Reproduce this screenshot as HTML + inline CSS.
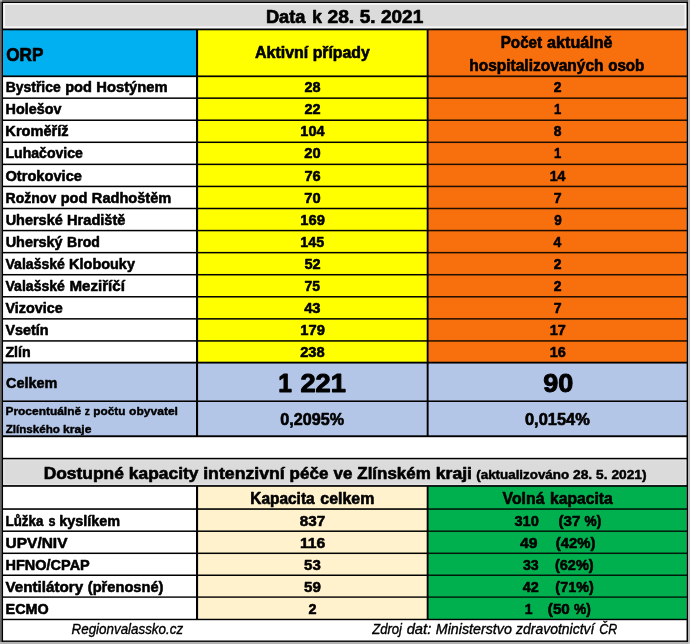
<!DOCTYPE html>
<html lang="cs"><head><meta charset="utf-8"><title>Data k 28. 5. 2021</title>
<style>
html,body{margin:0;padding:0;background:#fff;}
body{width:690px;height:644px;overflow:hidden;}
svg{display:block;}
text{font-family:"Liberation Sans",sans-serif;fill:#000;stroke:#000;stroke-linejoin:round;}
</style></head><body>
<svg width="690" height="644" viewBox="0 0 690 644">
<g shape-rendering="auto">
<rect x="0" y="0" width="690" height="644" fill="#fff"/>
<rect x="3.1" y="3" width="683.5" height="26.5" fill="#f6f6f6"/>
<rect x="5.1" y="4.8" width="679.5" height="21.6" fill="#dbdbdb"/>
<rect x="3.1" y="29.5" width="193.9" height="47" fill="#00b0f0"/>
<rect x="197.1" y="29.5" width="230.6" height="333.5" fill="#ffff00"/>
<rect x="427.6" y="29.5" width="259" height="333.5" fill="#f8700e"/>
<rect x="3.1" y="362.5" width="683.5" height="74" fill="#b4c6e7"/>
<rect x="3.1" y="458.5" width="683.5" height="27.5" fill="#e6e6e6"/>
<rect x="4.6" y="460.5" width="680.5" height="23.4" fill="#dbdbdb"/>
<rect x="197.1" y="486" width="230.6" height="133" fill="#fff2cc"/>
<rect x="427.6" y="486" width="259" height="133" fill="#00b050"/>
<rect x="2.1" y="28.5" width="685.5" height="1.8" fill="#000"/>
<rect x="2.1" y="75.45" width="685.5" height="1.7" fill="#000"/>
<rect x="2.1" y="97.4" width="685.5" height="1.5" fill="#000"/>
<rect x="2.1" y="119.47" width="685.5" height="1.5" fill="#000"/>
<rect x="2.1" y="141.54" width="685.5" height="1.5" fill="#000"/>
<rect x="2.1" y="163.61" width="685.5" height="1.5" fill="#000"/>
<rect x="2.1" y="185.68" width="685.5" height="1.5" fill="#000"/>
<rect x="2.1" y="207.75" width="685.5" height="1.5" fill="#000"/>
<rect x="2.1" y="229.82" width="685.5" height="1.5" fill="#000"/>
<rect x="2.1" y="251.89" width="685.5" height="1.5" fill="#000"/>
<rect x="2.1" y="273.96" width="685.5" height="1.5" fill="#000"/>
<rect x="2.1" y="296.03" width="685.5" height="1.5" fill="#000"/>
<rect x="2.1" y="318.1" width="685.5" height="1.5" fill="#000"/>
<rect x="2.1" y="340.17" width="685.5" height="1.5" fill="#000"/>
<rect x="2.1" y="361.7" width="685.5" height="1.85" fill="#000"/>
<rect x="2.1" y="400.45" width="685.5" height="1.55" fill="#000"/>
<rect x="2.1" y="435.3" width="685.5" height="1.9" fill="#000"/>
<rect x="2.1" y="457.8" width="685.5" height="1.5" fill="#000"/>
<rect x="2.1" y="485.1" width="685.5" height="1.7" fill="#000"/>
<rect x="2.1" y="508.25" width="685.5" height="1.6" fill="#000"/>
<rect x="2.1" y="530.45" width="685.5" height="1.5" fill="#000"/>
<rect x="2.1" y="552.55" width="685.5" height="1.5" fill="#000"/>
<rect x="2.1" y="574.5" width="685.5" height="1.5" fill="#000"/>
<rect x="2.1" y="596.4" width="685.5" height="1.4" fill="#000"/>
<rect x="2.1" y="618.75" width="685.5" height="1.45" fill="#000"/>
<rect x="196" y="29" width="2.1" height="407.5" fill="#000"/>
<rect x="196" y="486" width="2.1" height="133.5" fill="#000"/>
<rect x="426.7" y="29" width="1.9" height="407.5" fill="#000"/>
<rect x="426.7" y="486" width="1.9" height="133.5" fill="#000"/>
<rect x="0" y="0" width="690" height="2" fill="#686868"/>
<rect x="0" y="0" width="2" height="644" fill="#686868"/>
<rect x="688" y="0" width="2" height="644" fill="#b8b8b8"/>
<rect x="0" y="641.8" width="690" height="2.2" fill="#b2b2b2"/>
<rect x="688" y="641.8" width="2" height="2.2" fill="#c6c6c6"/>
<rect x="0" y="0" width="2.2" height="1.6" fill="#b4b4b4"/>
<rect x="1.75" y="1.9" width="1.3" height="640" fill="#000"/>
<rect x="686.55" y="1.9" width="1.45" height="640" fill="#000"/>
<rect x="1.75" y="1.9" width="686.3" height="1.1" fill="#000"/>
<rect x="1.75" y="640.5" width="686.35" height="1.4" fill="#000"/>
<rect x="428.6" y="30.3" width="258" height="331.3" fill="#f8700e" opacity="0.13"/>
<rect x="428.6" y="486.8" width="258" height="132" fill="#00b050" opacity="0.14"/>
</g>
<g>
<text x="265.95" y="22.90" font-size="17.92" font-weight="bold" stroke-width="0.68" textLength="39.55" lengthAdjust="spacingAndGlyphs">Data</text>
<text x="312.19" y="22.90" font-size="17.92" font-weight="bold" stroke-width="0.68" textLength="9.63" lengthAdjust="spacingAndGlyphs">k</text>
<text x="327.48" y="22.90" font-size="17.92" font-weight="bold" stroke-width="0.68" textLength="26.75" lengthAdjust="spacingAndGlyphs">28.</text>
<text x="359.66" y="22.90" font-size="17.92" font-weight="bold" stroke-width="0.68" textLength="15.82" lengthAdjust="spacingAndGlyphs">5.</text>
<text x="381.02" y="22.90" font-size="17.92" font-weight="bold" stroke-width="0.68" textLength="42.20" lengthAdjust="spacingAndGlyphs">2021</text>
<text x="6.15" y="60.50" font-size="17.92" font-weight="bold" stroke-width="0.68" textLength="37.26" lengthAdjust="spacingAndGlyphs">ORP</text>
<text x="255.00" y="57.90" font-size="15.96" font-weight="bold" stroke-width="0.61" textLength="53.33" lengthAdjust="spacingAndGlyphs">Aktivní</text>
<text x="312.65" y="57.90" font-size="15.96" font-weight="bold" stroke-width="0.61" textLength="57.12" lengthAdjust="spacingAndGlyphs">případy</text>
<text x="500.71" y="47.70" font-size="15.96" font-weight="bold" stroke-width="0.61" textLength="41.43" lengthAdjust="spacingAndGlyphs" fill="#200e02" stroke="#200e02">Počet</text>
<text x="547.10" y="47.70" font-size="15.96" font-weight="bold" stroke-width="0.61" textLength="65.43" lengthAdjust="spacingAndGlyphs" fill="#200e02" stroke="#200e02">aktuálně</text>
<text x="469.32" y="71.00" font-size="15.96" font-weight="bold" stroke-width="0.61" textLength="134.19" lengthAdjust="spacingAndGlyphs" fill="#200e02" stroke="#200e02">hospitalizovaných</text>
<text x="608.18" y="71.00" font-size="15.96" font-weight="bold" stroke-width="0.61" textLength="36.21" lengthAdjust="spacingAndGlyphs" fill="#200e02" stroke="#200e02">osob</text>
<text x="5.69" y="92.30" font-size="14.52" font-weight="bold" stroke-width="0.55" textLength="55.00" lengthAdjust="spacingAndGlyphs">Bystřice</text>
<text x="65.16" y="92.30" font-size="14.52" font-weight="bold" stroke-width="0.55" textLength="26.70" lengthAdjust="spacingAndGlyphs">pod</text>
<text x="96.28" y="92.30" font-size="14.52" font-weight="bold" stroke-width="0.55" textLength="71.31" lengthAdjust="spacingAndGlyphs">Hostýnem</text>
<text x="304.39" y="92.30" font-size="14.52" font-weight="bold" stroke-width="0.55" textLength="16.08" lengthAdjust="spacingAndGlyphs">28</text>
<text x="553.79" y="92.30" font-size="14.52" font-weight="bold" stroke-width="0.55" textLength="7.77" lengthAdjust="spacingAndGlyphs" fill="#200e02" stroke="#200e02">2</text>
<text x="5.58" y="114.35" font-size="14.52" font-weight="bold" stroke-width="0.55" textLength="55.86" lengthAdjust="spacingAndGlyphs">Holešov</text>
<text x="304.39" y="114.35" font-size="14.52" font-weight="bold" stroke-width="0.55" textLength="16.15" lengthAdjust="spacingAndGlyphs">22</text>
<text x="553.99" y="114.35" font-size="14.52" font-weight="bold" stroke-width="0.55" textLength="7.25" lengthAdjust="spacingAndGlyphs" fill="#200e02" stroke="#200e02">1</text>
<text x="5.39" y="136.40" font-size="14.52" font-weight="bold" stroke-width="0.55" textLength="63.18" lengthAdjust="spacingAndGlyphs">Kroměříž</text>
<text x="300.34" y="136.40" font-size="14.52" font-weight="bold" stroke-width="0.55" textLength="24.18" lengthAdjust="spacingAndGlyphs">104</text>
<text x="553.78" y="136.40" font-size="14.52" font-weight="bold" stroke-width="0.55" textLength="7.72" lengthAdjust="spacingAndGlyphs" fill="#200e02" stroke="#200e02">8</text>
<text x="5.51" y="158.45" font-size="14.52" font-weight="bold" stroke-width="0.55" textLength="77.36" lengthAdjust="spacingAndGlyphs">Luhačovice</text>
<text x="304.38" y="158.45" font-size="14.52" font-weight="bold" stroke-width="0.55" textLength="16.33" lengthAdjust="spacingAndGlyphs">20</text>
<text x="553.99" y="158.45" font-size="14.52" font-weight="bold" stroke-width="0.55" textLength="7.25" lengthAdjust="spacingAndGlyphs" fill="#200e02" stroke="#200e02">1</text>
<text x="5.41" y="180.50" font-size="14.52" font-weight="bold" stroke-width="0.55" textLength="76.59" lengthAdjust="spacingAndGlyphs">Otrokovice</text>
<text x="304.40" y="180.50" font-size="14.52" font-weight="bold" stroke-width="0.55" textLength="16.24" lengthAdjust="spacingAndGlyphs">76</text>
<text x="549.74" y="180.50" font-size="14.52" font-weight="bold" stroke-width="0.55" textLength="15.73" lengthAdjust="spacingAndGlyphs" fill="#200e02" stroke="#200e02">14</text>
<text x="5.60" y="202.55" font-size="14.52" font-weight="bold" stroke-width="0.55" textLength="50.58" lengthAdjust="spacingAndGlyphs">Rožnov</text>
<text x="60.73" y="202.55" font-size="14.52" font-weight="bold" stroke-width="0.55" textLength="26.70" lengthAdjust="spacingAndGlyphs">pod</text>
<text x="91.86" y="202.55" font-size="14.52" font-weight="bold" stroke-width="0.55" textLength="79.46" lengthAdjust="spacingAndGlyphs">Radhoštěm</text>
<text x="304.39" y="202.55" font-size="14.52" font-weight="bold" stroke-width="0.55" textLength="16.32" lengthAdjust="spacingAndGlyphs">70</text>
<text x="553.79" y="202.55" font-size="14.52" font-weight="bold" stroke-width="0.55" textLength="7.85" lengthAdjust="spacingAndGlyphs" fill="#200e02" stroke="#200e02">7</text>
<text x="5.64" y="224.60" font-size="14.52" font-weight="bold" stroke-width="0.55" textLength="57.10" lengthAdjust="spacingAndGlyphs">Uherské</text>
<text x="67.04" y="224.60" font-size="14.52" font-weight="bold" stroke-width="0.55" textLength="58.46" lengthAdjust="spacingAndGlyphs">Hradiště</text>
<text x="300.33" y="224.60" font-size="14.52" font-weight="bold" stroke-width="0.55" textLength="24.55" lengthAdjust="spacingAndGlyphs">169</text>
<text x="554.13" y="224.60" font-size="14.52" font-weight="bold" stroke-width="0.55" textLength="7.50" lengthAdjust="spacingAndGlyphs" fill="#200e02" stroke="#200e02">9</text>
<text x="5.64" y="246.65" font-size="14.52" font-weight="bold" stroke-width="0.55" textLength="57.01" lengthAdjust="spacingAndGlyphs">Uherský</text>
<text x="67.11" y="246.65" font-size="14.52" font-weight="bold" stroke-width="0.55" textLength="32.85" lengthAdjust="spacingAndGlyphs">Brod</text>
<text x="300.35" y="246.65" font-size="14.52" font-weight="bold" stroke-width="0.55" textLength="23.88" lengthAdjust="spacingAndGlyphs">145</text>
<text x="553.57" y="246.65" font-size="14.52" font-weight="bold" stroke-width="0.55" textLength="7.74" lengthAdjust="spacingAndGlyphs" fill="#200e02" stroke="#200e02">4</text>
<text x="5.51" y="268.70" font-size="14.52" font-weight="bold" stroke-width="0.55" textLength="59.43" lengthAdjust="spacingAndGlyphs">Valašské</text>
<text x="69.12" y="268.70" font-size="14.52" font-weight="bold" stroke-width="0.55" textLength="65.82" lengthAdjust="spacingAndGlyphs">Klobouky</text>
<text x="304.38" y="268.70" font-size="14.52" font-weight="bold" stroke-width="0.55" textLength="16.16" lengthAdjust="spacingAndGlyphs">52</text>
<text x="553.79" y="268.70" font-size="14.52" font-weight="bold" stroke-width="0.55" textLength="7.77" lengthAdjust="spacingAndGlyphs" fill="#200e02" stroke="#200e02">2</text>
<text x="5.51" y="290.75" font-size="14.52" font-weight="bold" stroke-width="0.55" textLength="59.43" lengthAdjust="spacingAndGlyphs">Valašské</text>
<text x="69.42" y="290.75" font-size="14.52" font-weight="bold" stroke-width="0.55" textLength="55.43" lengthAdjust="spacingAndGlyphs">Meziříčí</text>
<text x="304.42" y="290.75" font-size="14.52" font-weight="bold" stroke-width="0.55" textLength="15.56" lengthAdjust="spacingAndGlyphs">75</text>
<text x="553.79" y="290.75" font-size="14.52" font-weight="bold" stroke-width="0.55" textLength="7.77" lengthAdjust="spacingAndGlyphs" fill="#200e02" stroke="#200e02">2</text>
<text x="5.50" y="312.80" font-size="14.52" font-weight="bold" stroke-width="0.55" textLength="57.20" lengthAdjust="spacingAndGlyphs">Vizovice</text>
<text x="304.18" y="312.80" font-size="14.52" font-weight="bold" stroke-width="0.55" textLength="16.37" lengthAdjust="spacingAndGlyphs">43</text>
<text x="553.79" y="312.80" font-size="14.52" font-weight="bold" stroke-width="0.55" textLength="7.85" lengthAdjust="spacingAndGlyphs" fill="#200e02" stroke="#200e02">7</text>
<text x="5.50" y="334.85" font-size="14.52" font-weight="bold" stroke-width="0.55" textLength="43.14" lengthAdjust="spacingAndGlyphs">Vsetín</text>
<text x="300.33" y="334.85" font-size="14.52" font-weight="bold" stroke-width="0.55" textLength="24.55" lengthAdjust="spacingAndGlyphs">179</text>
<text x="549.72" y="334.85" font-size="14.52" font-weight="bold" stroke-width="0.55" textLength="16.10" lengthAdjust="spacingAndGlyphs" fill="#200e02" stroke="#200e02">17</text>
<text x="5.40" y="356.90" font-size="14.52" font-weight="bold" stroke-width="0.55" textLength="25.23" lengthAdjust="spacingAndGlyphs">Zlín</text>
<text x="300.20" y="356.90" font-size="14.52" font-weight="bold" stroke-width="0.55" textLength="24.52" lengthAdjust="spacingAndGlyphs">238</text>
<text x="549.72" y="356.90" font-size="14.52" font-weight="bold" stroke-width="0.55" textLength="16.11" lengthAdjust="spacingAndGlyphs" fill="#200e02" stroke="#200e02">16</text>
<text x="6.10" y="387.70" font-size="14.52" font-weight="bold" stroke-width="0.55" textLength="51.26" lengthAdjust="spacingAndGlyphs">Celkem</text>
<text x="278.31" y="392.45" font-size="25.20" font-weight="bold" stroke-width="0.96" textLength="13.62" lengthAdjust="spacingAndGlyphs">1</text>
<text x="300.47" y="392.45" font-size="25.20" font-weight="bold" stroke-width="0.96" textLength="45.42" lengthAdjust="spacingAndGlyphs">221</text>
<text x="543.17" y="392.45" font-size="25.20" font-weight="bold" stroke-width="0.96" textLength="30.02" lengthAdjust="spacingAndGlyphs">90</text>
<text x="5.45" y="415.40" font-size="11.70" font-weight="bold" stroke-width="0.44" textLength="75.71" lengthAdjust="spacingAndGlyphs">Procentuálně</text>
<text x="84.63" y="415.40" font-size="11.70" font-weight="bold" stroke-width="0.44" textLength="5.09" lengthAdjust="spacingAndGlyphs">z</text>
<text x="93.35" y="415.40" font-size="11.70" font-weight="bold" stroke-width="0.44" textLength="32.18" lengthAdjust="spacingAndGlyphs">počtu</text>
<text x="129.08" y="415.40" font-size="11.70" font-weight="bold" stroke-width="0.44" textLength="48.86" lengthAdjust="spacingAndGlyphs">obyvatel</text>
<text x="5.67" y="432.60" font-size="11.70" font-weight="bold" stroke-width="0.44" textLength="54.18" lengthAdjust="spacingAndGlyphs">Zlínského</text>
<text x="63.11" y="432.60" font-size="11.70" font-weight="bold" stroke-width="0.44" textLength="28.31" lengthAdjust="spacingAndGlyphs">kraje</text>
<text x="280.36" y="424.60" font-size="15.96" font-weight="bold" stroke-width="0.61" textLength="63.81" lengthAdjust="spacingAndGlyphs">0,2095%</text>
<text x="524.98" y="424.60" font-size="15.96" font-weight="bold" stroke-width="0.61" textLength="64.85" lengthAdjust="spacingAndGlyphs">0,0154%</text>
<text x="43.69" y="478.90" font-size="16.77" font-weight="bold" stroke-width="0.64" textLength="80.18" lengthAdjust="spacingAndGlyphs">Dostupné</text>
<text x="128.84" y="478.90" font-size="16.77" font-weight="bold" stroke-width="0.64" textLength="69.62" lengthAdjust="spacingAndGlyphs">kapacity</text>
<text x="203.20" y="478.90" font-size="16.77" font-weight="bold" stroke-width="0.64" textLength="81.57" lengthAdjust="spacingAndGlyphs">intenzivní</text>
<text x="289.58" y="478.90" font-size="16.77" font-weight="bold" stroke-width="0.64" textLength="38.77" lengthAdjust="spacingAndGlyphs">péče</text>
<text x="333.51" y="478.90" font-size="16.77" font-weight="bold" stroke-width="0.64" textLength="18.89" lengthAdjust="spacingAndGlyphs">ve</text>
<text x="357.30" y="478.90" font-size="16.77" font-weight="bold" stroke-width="0.64" textLength="73.41" lengthAdjust="spacingAndGlyphs">Zlínském</text>
<text x="435.75" y="478.90" font-size="16.77" font-weight="bold" stroke-width="0.64" textLength="36.28" lengthAdjust="spacingAndGlyphs">kraji</text>
<text x="476.28" y="478.90" font-size="13.00" font-weight="bold" stroke-width="0.49" textLength="92.86" lengthAdjust="spacingAndGlyphs">(aktualizováno</text>
<text x="573.00" y="478.90" font-size="13.00" font-weight="bold" stroke-width="0.49" textLength="19.22" lengthAdjust="spacingAndGlyphs">28.</text>
<text x="596.12" y="478.90" font-size="13.00" font-weight="bold" stroke-width="0.49" textLength="11.37" lengthAdjust="spacingAndGlyphs">5.</text>
<text x="611.47" y="478.90" font-size="13.00" font-weight="bold" stroke-width="0.49" textLength="35.09" lengthAdjust="spacingAndGlyphs">2021)</text>
<text x="250.28" y="503.50" font-size="15.96" font-weight="bold" stroke-width="0.61" textLength="64.35" lengthAdjust="spacingAndGlyphs">Kapacita</text>
<text x="320.33" y="503.50" font-size="15.96" font-weight="bold" stroke-width="0.61" textLength="53.96" lengthAdjust="spacingAndGlyphs">celkem</text>
<text x="502.62" y="503.70" font-size="15.96" font-weight="bold" stroke-width="0.61" textLength="41.83" lengthAdjust="spacingAndGlyphs" fill="#001a0b" stroke="#001a0b">Volná</text>
<text x="550.05" y="503.70" font-size="15.96" font-weight="bold" stroke-width="0.61" textLength="62.61" lengthAdjust="spacingAndGlyphs" fill="#001a0b" stroke="#001a0b">kapacita</text>
<text x="5.56" y="526.30" font-size="14.52" font-weight="bold" stroke-width="0.55" textLength="37.81" lengthAdjust="spacingAndGlyphs">Lůžka</text>
<text x="48.47" y="526.30" font-size="14.52" font-weight="bold" stroke-width="0.55" textLength="7.03" lengthAdjust="spacingAndGlyphs">s</text>
<text x="59.28" y="526.30" font-size="14.52" font-weight="bold" stroke-width="0.55" textLength="60.90" lengthAdjust="spacingAndGlyphs">kyslíkem</text>
<text x="299.81" y="526.30" font-size="14.52" font-weight="bold" stroke-width="0.55" textLength="25.47" lengthAdjust="spacingAndGlyphs">837</text>
<text x="514.41" y="526.30" font-size="14.52" font-weight="bold" stroke-width="0.55" textLength="24.35" lengthAdjust="spacingAndGlyphs" fill="#001a0b" stroke="#001a0b">310</text>
<text x="558.42" y="526.30" font-size="14.52" font-weight="bold" stroke-width="0.55" textLength="21.90" lengthAdjust="spacingAndGlyphs" fill="#001a0b" stroke="#001a0b">(37</text>
<text x="584.62" y="526.30" font-size="14.52" font-weight="bold" stroke-width="0.55" textLength="16.67" lengthAdjust="spacingAndGlyphs" fill="#001a0b" stroke="#001a0b">%)</text>
<text x="5.58" y="548.40" font-size="14.52" font-weight="bold" stroke-width="0.55" textLength="61.91" lengthAdjust="spacingAndGlyphs">UPV/NIV</text>
<text x="299.92" y="548.40" font-size="14.52" font-weight="bold" stroke-width="0.55" textLength="25.38" lengthAdjust="spacingAndGlyphs">116</text>
<text x="520.04" y="548.40" font-size="14.52" font-weight="bold" stroke-width="0.55" textLength="17.47" lengthAdjust="spacingAndGlyphs" fill="#001a0b" stroke="#001a0b">49</text>
<text x="555.83" y="548.40" font-size="14.52" font-weight="bold" stroke-width="0.55" textLength="39.60" lengthAdjust="spacingAndGlyphs" fill="#001a0b" stroke="#001a0b">(42%)</text>
<text x="5.57" y="569.70" font-size="14.52" font-weight="bold" stroke-width="0.55" textLength="84.19" lengthAdjust="spacingAndGlyphs">HFNO/CPAP</text>
<text x="304.12" y="569.70" font-size="14.52" font-weight="bold" stroke-width="0.55" textLength="16.69" lengthAdjust="spacingAndGlyphs">53</text>
<text x="522.92" y="569.70" font-size="14.52" font-weight="bold" stroke-width="0.55" textLength="15.73" lengthAdjust="spacingAndGlyphs" fill="#001a0b" stroke="#001a0b">33</text>
<text x="554.95" y="569.70" font-size="14.52" font-weight="bold" stroke-width="0.55" textLength="38.77" lengthAdjust="spacingAndGlyphs" fill="#001a0b" stroke="#001a0b">(62%)</text>
<text x="5.50" y="591.80" font-size="14.52" font-weight="bold" stroke-width="0.55" textLength="77.65" lengthAdjust="spacingAndGlyphs">Ventilátory</text>
<text x="87.79" y="591.80" font-size="14.52" font-weight="bold" stroke-width="0.55" textLength="75.65" lengthAdjust="spacingAndGlyphs">(přenosné)</text>
<text x="304.12" y="591.80" font-size="14.52" font-weight="bold" stroke-width="0.55" textLength="16.78" lengthAdjust="spacingAndGlyphs">59</text>
<text x="522.76" y="591.80" font-size="14.52" font-weight="bold" stroke-width="0.55" textLength="15.97" lengthAdjust="spacingAndGlyphs" fill="#001a0b" stroke="#001a0b">42</text>
<text x="555.36" y="591.80" font-size="14.52" font-weight="bold" stroke-width="0.55" textLength="38.35" lengthAdjust="spacingAndGlyphs" fill="#001a0b" stroke="#001a0b">(71%)</text>
<text x="5.58" y="614.40" font-size="14.52" font-weight="bold" stroke-width="0.55" textLength="43.09" lengthAdjust="spacingAndGlyphs">ECMO</text>
<text x="308.46" y="614.40" font-size="14.52" font-weight="bold" stroke-width="0.55" textLength="8.03" lengthAdjust="spacingAndGlyphs">2</text>
<text x="524.74" y="614.40" font-size="14.52" font-weight="bold" stroke-width="0.55" textLength="7.75" lengthAdjust="spacingAndGlyphs" fill="#001a0b" stroke="#001a0b">1</text>
<text x="547.82" y="614.40" font-size="14.52" font-weight="bold" stroke-width="0.55" textLength="21.99" lengthAdjust="spacingAndGlyphs" fill="#001a0b" stroke="#001a0b">(50</text>
<text x="574.02" y="614.40" font-size="14.52" font-weight="bold" stroke-width="0.55" textLength="16.67" lengthAdjust="spacingAndGlyphs" fill="#001a0b" stroke="#001a0b">%)</text>
<text x="71.58" y="634.40" font-size="14.30" font-style="italic" stroke-width="0.37" textLength="111.50" lengthAdjust="spacingAndGlyphs">Regionvalassko.cz</text>
<text x="372.25" y="634.40" font-size="14.30" font-style="italic" stroke-width="0.37" textLength="29.78" lengthAdjust="spacingAndGlyphs">Zdroj</text>
<text x="406.67" y="634.40" font-size="14.30" font-style="italic" stroke-width="0.37" textLength="24.60" lengthAdjust="spacingAndGlyphs">dat:</text>
<text x="435.76" y="634.40" font-size="14.30" font-style="italic" stroke-width="0.37" textLength="76.08" lengthAdjust="spacingAndGlyphs">Ministerstvo</text>
<text x="516.06" y="634.40" font-size="14.30" font-style="italic" stroke-width="0.37" textLength="78.32" lengthAdjust="spacingAndGlyphs">zdravotnictví</text>
<text x="599.19" y="634.40" font-size="14.30" font-style="italic" stroke-width="0.37" textLength="17.97" lengthAdjust="spacingAndGlyphs">ČR</text>
</g>
</svg>
</body></html>
